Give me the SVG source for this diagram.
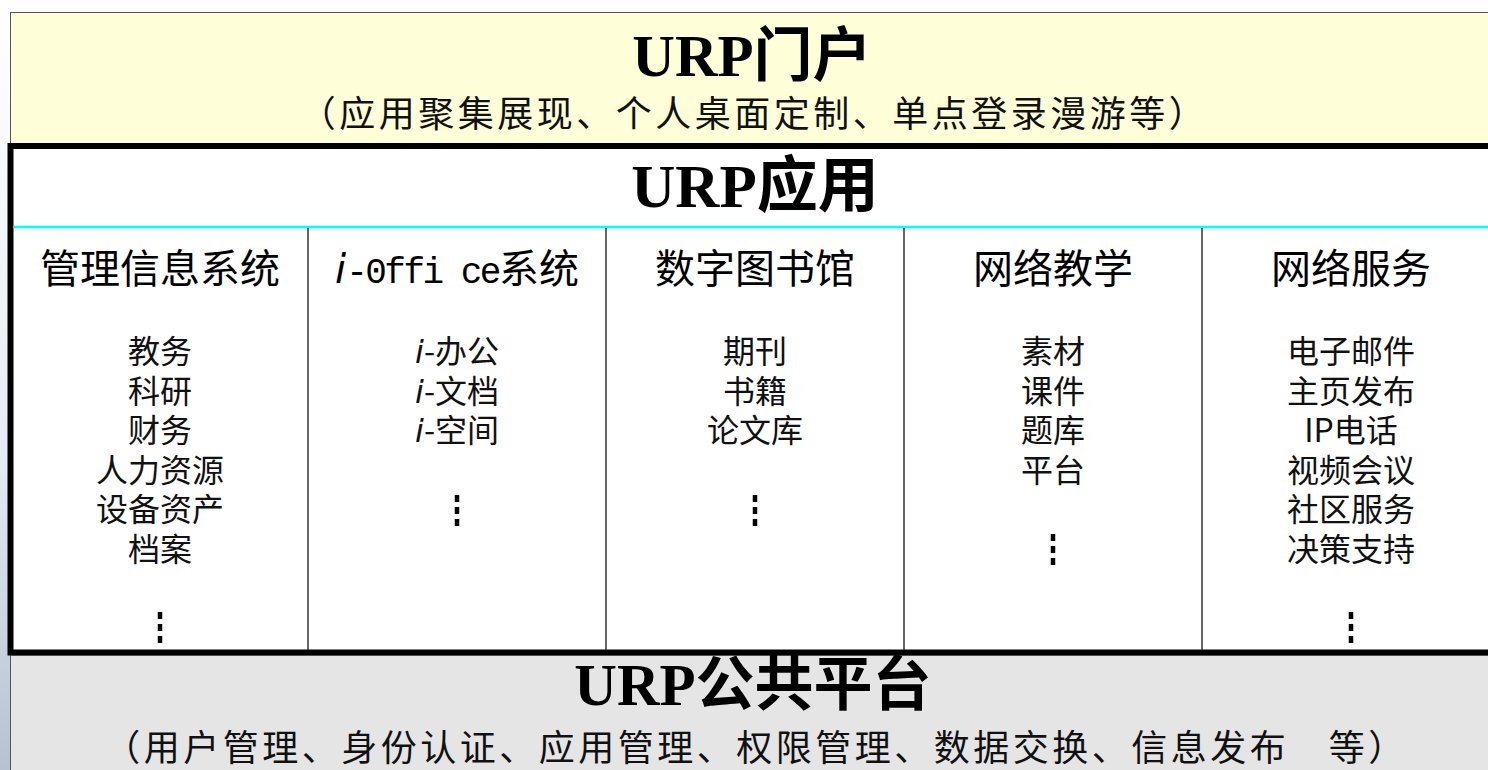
<svg xmlns="http://www.w3.org/2000/svg" width="1488" height="770" viewBox="0 0 1488 770">
<defs>
<linearGradient id="edge" x1="0" y1="0" x2="0" y2="1">
<stop offset="0" stop-color="#ffffff"/>
<stop offset="0.3" stop-color="#f3f6fb"/>
<stop offset="0.6" stop-color="#e3ebf6"/>
<stop offset="0.85" stop-color="#c5d1df"/>
<stop offset="1" stop-color="#b4c2d2"/>
</linearGradient>
<style>
.title{font-family:"Liberation Serif","Noto Sans CJK SC",serif;font-weight:bold;font-size:59px;fill:#000;text-anchor:middle}
.sub{font-family:"Noto Sans CJK SC",sans-serif;font-size:36px;letter-spacing:3.5px;fill:#111;text-anchor:middle}
.head{font-family:"Noto Sans CJK SC",sans-serif;font-size:40px;fill:#000;text-anchor:middle}
.item{font-family:"Noto Sans CJK SC",sans-serif;font-size:32px;fill:#111;text-anchor:middle}
.it{font-style:italic;font-family:"DejaVu Sans",sans-serif}
.mono{font-family:"Liberation Mono",monospace;font-size:36px;letter-spacing:-2.5px}
.dots{stroke:#000;stroke-width:4.5;stroke-dasharray:7 5}
.div{stroke:#333;stroke-width:1.5}
</style>
</defs>
<rect x="0" y="0" width="10" height="770" fill="url(#edge)"/>
<g id="platform">
<rect x="10.5" y="655" width="1500" height="130" fill="#e5e5e5" stroke="#555" stroke-width="1"/>
<text class="title" x="753" y="705">URP公共平台</text>
<text class="sub" x="756" y="761">（用户管理、身份认证、应用管理、权限管理、数据交换、信息发布　等）</text>
</g>
<g id="portal">
<rect x="10.5" y="12.5" width="1500" height="131" fill="#fefed8" stroke="#555" stroke-width="1"/>
<text class="title" x="752" y="76">URP门户</text>
<text class="sub" x="754" y="127">（应用聚集展现、个人桌面定制、单点登录漫游等）</text>
</g>
<g id="app">
<rect x="10.5" y="146" width="1500" height="506.5" fill="#fff" stroke="#000" stroke-width="6"/>
<text class="title" x="755" y="207" style="font-size:61px">URP应用</text>
</g>
<g id="connectors">
<line x1="13.5" y1="227" x2="1488" y2="227" stroke="#00ffff" stroke-width="2.5"/>
<line class="div" x1="308" y1="228" x2="308" y2="650"/>
<line class="div" x1="606" y1="228" x2="606" y2="650"/>
<line class="div" x1="904" y1="228" x2="904" y2="650"/>
<line class="div" x1="1202" y1="228" x2="1202" y2="650"/>
</g>
<g id="mis">
<text class="head" x="160" y="283">管理信息系统</text>
<text class="item"><tspan x="160" y="363">教务</tspan><tspan x="160" y="402.5">科研</tspan><tspan x="160" y="442">财务</tspan><tspan x="160" y="481.5">人力资源</tspan><tspan x="160" y="521">设备资产</tspan><tspan x="160" y="560.5">档案</tspan></text>
<line class="dots" x1="160" y1="612" x2="160" y2="645"/>
</g>
<g id="ioffice">
<text class="head" x="457" y="283"><tspan class="it">i</tspan><tspan class="mono">-0ffi ce</tspan>系统</text>
<text class="item"><tspan x="457" y="363"><tspan class="it">i</tspan>-办公</tspan><tspan x="457" y="402.5"><tspan class="it">i</tspan>-文档</tspan><tspan x="457" y="442"><tspan class="it">i</tspan>-空间</tspan></text>
<line class="dots" x1="457" y1="495" x2="457" y2="528"/>
</g>
<g id="library">
<text class="head" x="755" y="283">数字图书馆</text>
<text class="item"><tspan x="755" y="363">期刊</tspan><tspan x="755" y="402.5">书籍</tspan><tspan x="755" y="442">论文库</tspan></text>
<line class="dots" x1="755" y1="495" x2="755" y2="528"/>
</g>
<g id="teaching">
<text class="head" x="1053" y="283">网络教学</text>
<text class="item"><tspan x="1053" y="363">素材</tspan><tspan x="1053" y="402.5">课件</tspan><tspan x="1053" y="442">题库</tspan><tspan x="1053" y="481.5">平台</tspan></text>
<line class="dots" x1="1053" y1="534" x2="1053" y2="567"/>
</g>
<g id="services">
<text class="head" x="1351" y="283">网络服务</text>
<text class="item"><tspan x="1351" y="363">电子邮件</tspan><tspan x="1351" y="402.5">主页发布</tspan><tspan x="1351" y="442">IP电话</tspan><tspan x="1351" y="481.5">视频会议</tspan><tspan x="1351" y="521">社区服务</tspan><tspan x="1351" y="560.5">决策支持</tspan></text>
<line class="dots" x1="1351" y1="612" x2="1351" y2="645"/>
</g>
</svg>
